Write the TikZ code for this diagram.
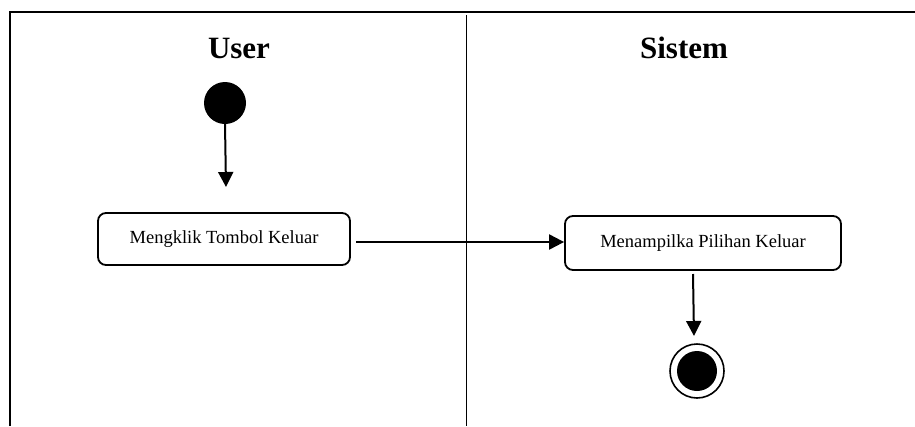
\documentclass[tikz,border=0pt]{standalone}
\usepackage{fontspec}
\setmainfont{Liberation Serif}
\usetikzlibrary{arrows.meta}
\begin{document}
\begin{tikzpicture}[x=1pt,y=-1pt,
  frame/.style={line width=2.4pt},
  divider/.style={line width=1pt},
  lanetitle/.style={font=\fontsize{31}{36}\selectfont\bfseries, anchor=base},
  action/.style={draw, line width=1.8pt, rounded corners=8pt, minimum width=252pt,
    minimum height=52pt, font=\fontsize{18.5}{22}\selectfont, inner sep=0pt},
  flow/.style={line width=2pt, -{Triangle[length=15pt,width=15pt]}},
  startdot/.style={circle, fill=black, minimum size=42pt, inner sep=0pt},
  endring/.style={circle, draw, line width=1.6pt, minimum size=54pt, inner sep=0pt},
  enddot/.style={circle, fill=black, minimum size=40pt, inner sep=0pt}]
\useasboundingbox (0,0) rectangle (915,426);
\fill[white] (0,0) rectangle (915,426);

% swimlane frame and divider
\draw[frame] (10,426) -- (10,12) -- (915,12);
\draw[divider] (466,15) -- (466,426);

% lane titles
\node[lanetitle] (tuser) at (239,58) {User};
\node[lanetitle] (tsys) at (684,58) {Sistem};

% nodes
\node[startdot] (start) at (225,103) {};
\node[action] (klik) at (224,239) {Mengklik Tombol Keluar};
\node[action, minimum width=276pt, minimum height=54pt] (tampil) at (703,243) {Menampilka Pilihan Keluar};
\node[endring] (endo) at (697,371) {};
\node[enddot] (endi) at (697,371) {};

% connectors
\coordinate (s1) at (226,187);
\draw[flow] (start.south) -- (s1);
\coordinate (h0) at (356,242);
\draw[flow] (h0) -- (tampil.west |- h0);
\coordinate (d0) at (693,274);
\coordinate (d1) at (694,336);
\draw[flow] (d0) -- (d1);
\end{tikzpicture}
\end{document}
